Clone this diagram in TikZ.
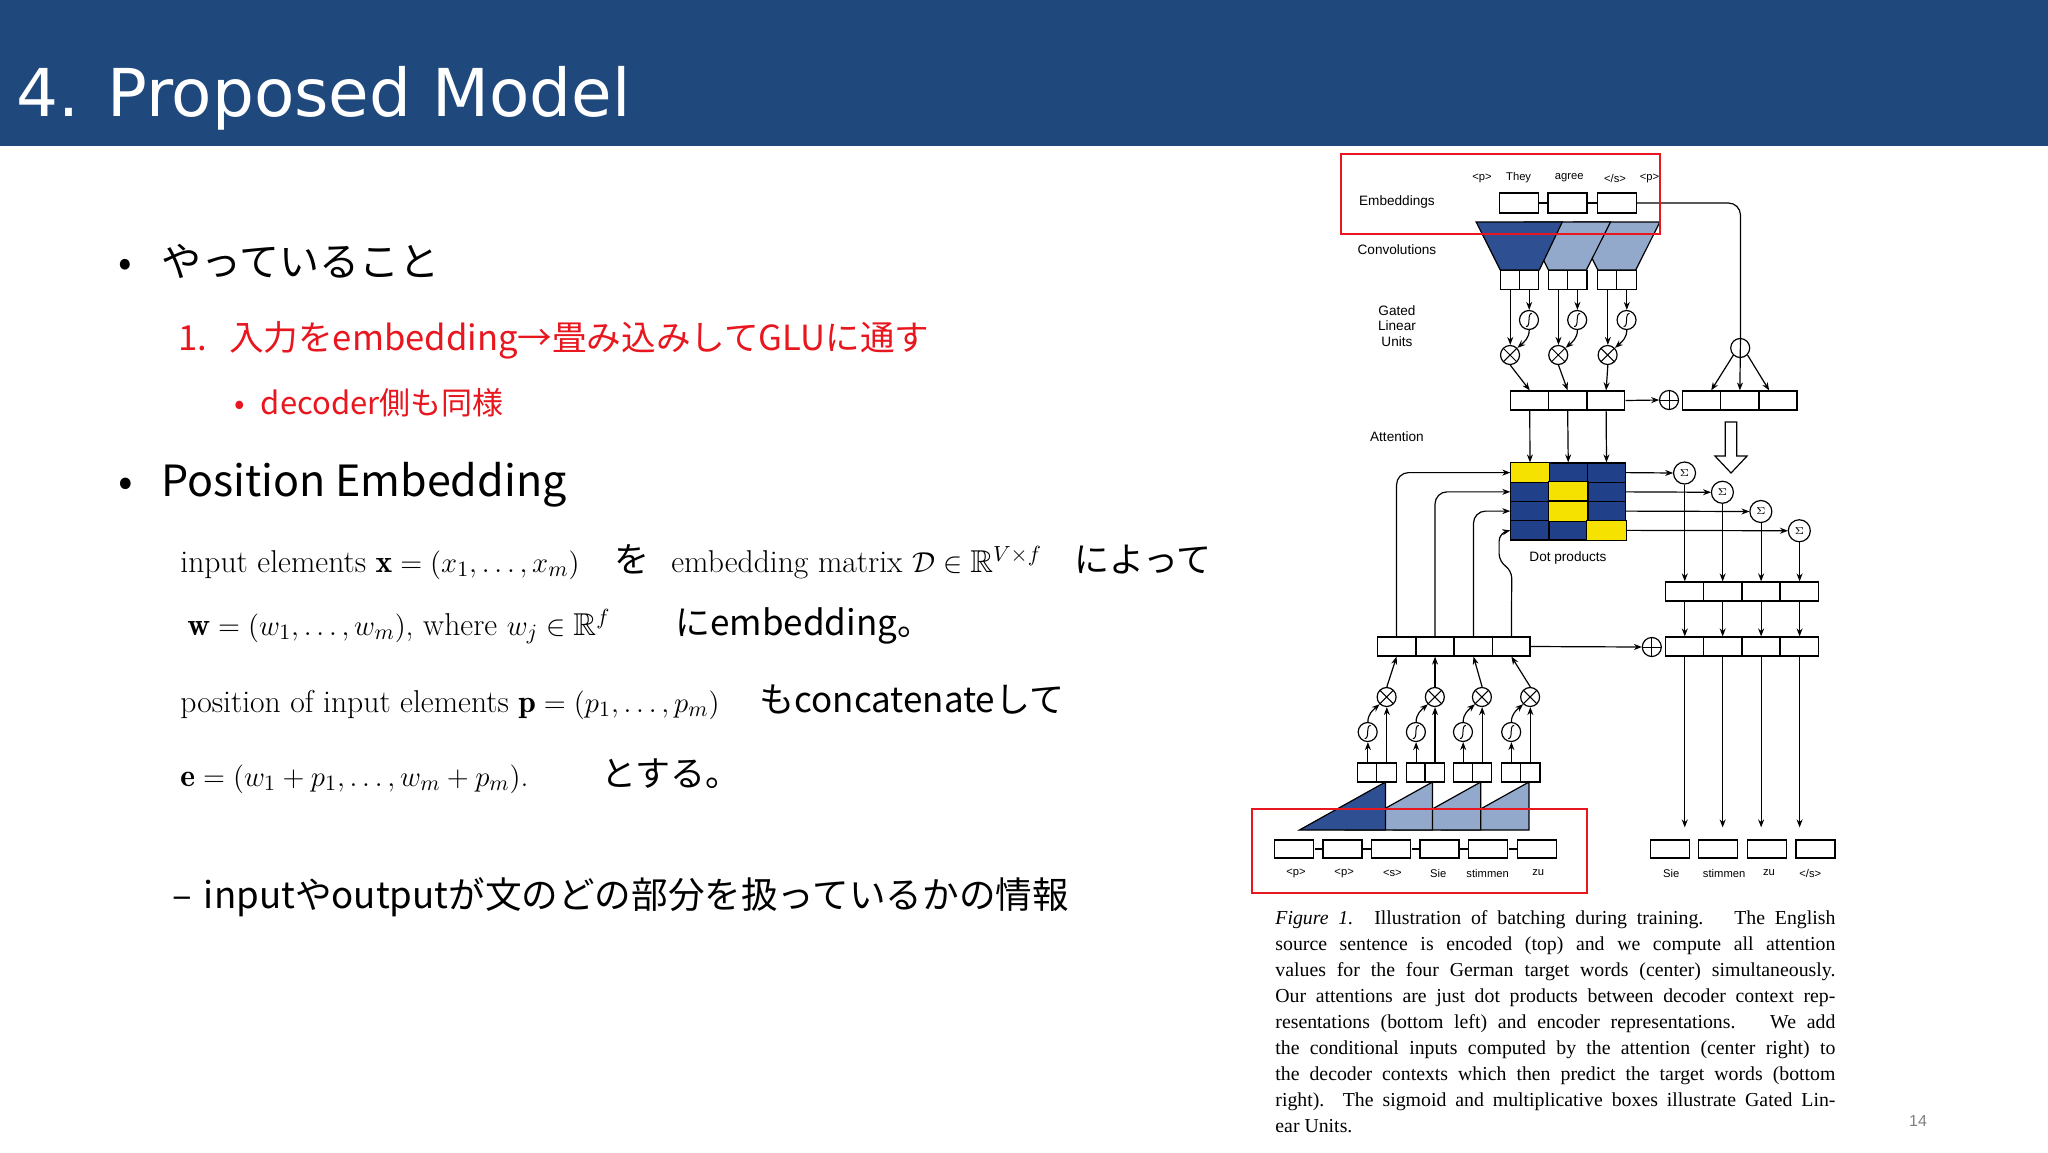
\documentclass[tikz,border=0pt]{standalone}
\usepackage{fontspec}
\usepackage{amssymb}
\usetikzlibrary{arrows.meta,calc}
\newfontfamily\jp{Noto Sans CJK JP}
\newfontfamily\dv{DejaVu Sans}
\newfontfamily\ar{Liberation Sans}
\newfontfamily\tm{Liberation Serif}
\definecolor{hdr}{HTML}{1F497D}
\definecolor{navy}{HTML}{21408A}
\definecolor{dkb}{HTML}{2E4F91}
\definecolor{ltb}{HTML}{93A9CC}
\definecolor{yel}{HTML}{F5E200}
\definecolor{rd}{HTML}{E8161E}
\tikzset{
 cell/.style={draw, line width=0.6pt, inner sep=0, minimum width=18.9pt, minimum height=9.5pt, fill=white},
 half/.style={cell, minimum width=9.8pt},
 arr/.style={-{Stealth[length=4pt,width=3pt]}, line width=0.6pt},
 ln/.style={line width=0.6pt},
 op/.style={draw, circle, inner sep=0, minimum size=9.5pt, line width=0.6pt},
 times/.style={op, fill=white, path picture={\draw[line width=0.5pt] (path picture bounding box.north west)--(path picture bounding box.south east) (path picture bounding box.north east)--(path picture bounding box.south west);}},
 oplus/.style={op, fill=white, path picture={\draw[line width=0.5pt] (path picture bounding box.north)--(path picture bounding box.south) (path picture bounding box.east)--(path picture bounding box.west);}},
 sigm/.style={op, fill=white, path picture={\draw[line width=0.5pt] ([shift={(-1.5pt,-3.3pt)}]path picture bounding box.center) .. controls ([shift={(1.2pt,-3.3pt)}]path picture bounding box.center) and ([shift={(-1.2pt,3.3pt)}]path picture bounding box.center) .. ([shift={(1.5pt,3.3pt)}]path picture bounding box.center);}},
 sumc/.style={op, fill=white, minimum size=11pt, font=\ar\fontsize{5.5}{5.5}\selectfont},
 lab/.style={font=\ar\fontsize{6.8}{7.8}\selectfont, align=center},
 tok/.style={font=\ar\fontsize{5.6}{6}\selectfont, inner sep=0},
 bjp/.style={anchor=base west, inner sep=0, font=\jp\fontsize{20}{22}\selectfont},
 mth/.style={anchor=base west, inner sep=0, font=\fontsize{15.8}{18}\selectfont},
 jpm/.style={anchor=base west, inner sep=0, font=\jp\fontsize{17.5}{19}\selectfont},
}
\begin{document}
\begin{tikzpicture}[x=0.5pt,y=-0.5pt]
\useasboundingbox (0,0) rectangle (2048,1152);
\fill[white] (0,0) rectangle (2048,1152);
\fill[hdr] (0,0) rectangle (2048,146);
\node[anchor=base west, inner sep=0, text=white, font=\dv\fontsize{33}{36}\selectfont] (title) at (16,116) {4. Proposed Model};
% bullets
\node[bjp] (b1d) at (118,276) {•};
\node[bjp] (b1) at (161,276) {やっていること};
\node[anchor=base west, inner sep=0, text=rd, font=\jp\fontsize{17.3}{19}\selectfont] (b2) at (178,350) {1.\hspace{11pt}入力をembedding→畳み込みしてGLUに通す};
\node[anchor=base west, inner sep=0, text=rd, font=\jp\fontsize{15.5}{17}\selectfont] (b3) at (234,414) {•\hspace{8pt}decoder側も同様};
\node[bjp, font=\jp\fontsize{21.5}{23}\selectfont] (b4d) at (118,496) {•};
\node[bjp, font=\jp\fontsize{21.5}{23}\selectfont] (b4) at (161,496) {Position Embedding};
\node[mth] (m1) at (180,572) {input elements $\mathbf{x} = (x_1, \ldots, x_m)$};
\node[jpm] (j1) at (614,572) {を};
\node[mth] (m1b) at (671,572) {embedding matrix $\mathcal{D} \in \mathbb{R}^{V\times f}$};
\node[jpm] (j1b) at (1074,572) {によって};
\node[mth] (m2) at (187,635) {$\mathbf{w} = (w_1, \ldots, w_m)$, where $w_j \in \mathbb{R}^f$};
\node[jpm] (j2) at (675,635) {にembedding。};
\node[mth] (m3) at (180,712) {position of input elements $\mathbf{p} = (p_1, \ldots, p_m)$};
\node[jpm] (j3) at (759,712) {もconcatenateして};
\node[mth] (m4) at (180,786) {$\mathbf{e} = (w_1 + p_1, \ldots, w_m + p_m)$.};
\node[jpm] (j4) at (601,786) {とする。};
\node[anchor=base west, inner sep=0, font=\jp\fontsize{18.3}{20}\selectfont] (b5) at (172,908) {–\hspace{6pt}inputやoutputが文のどの部分を扱っているかの情報};
% caption
\node[anchor=north west, inner sep=0, text width=280pt, align=justify, font=\tm\fontsize{9.9}{13}\selectfont] (cap) at (1275,910) {\emergencystretch=5pt\textit{Figure 1.} Illustration of batching during training. \ The English\linebreak source sentence is encoded (top) and we compute all attention\linebreak values for the four German target words (center) simultaneously.\linebreak Our attentions are just dot products between decoder context rep-\linebreak resentations (bottom left) and encoder representations. \ We add\linebreak the conditional inputs computed by the attention (center right) to\linebreak the decoder contexts which then predict the target words (bottom\linebreak right). The sigmoid and multiplicative boxes illustrate Gated Lin-\linebreak ear Units.};
\node[text=gray, font=\ar\fontsize{8}{9}\selectfont] (pg) at (1918,1121) {14};
\begin{scope}[shift={(-185,0)}, xscale=1.148]
% ===== encoder =====
\node[lab] (lemb) at (1378,202) {Embeddings};
\node[lab] (lconv) at (1378,250) {Convolutions};
\node[lab] (lglu) at (1378,326) {Gated\\Linear\\Units};
\node[lab] (latt) at (1378,437) {Attention};
\node[tok] at (1452,178) {<p>};
\node[tok] at (1484,178) {They};
\node[tok] at (1528,178) {agree};
\node[tok] at (1568,178) {</s>};
\node[tok] at (1598,178) {<p>};
\node[cell, minimum width=19.5pt, minimum height=10pt] (e1) at (1484,203) {};
\node[cell, minimum width=19.5pt, minimum height=10pt] (e2) at (1526.5,203) {};
\node[cell, minimum width=19.5pt, minimum height=10pt] (e3) at (1569.5,203) {};
\draw[ln] (e1.east) -- (e2.west) (e2.east) -- (e3.west);
\filldraw[fill=ltb, ln] (1532,222) -- (1607,222) -- (1586,270) -- (1553,270) -- cycle;
\filldraw[fill=ltb, ln] (1489,222) -- (1564,222) -- (1543,270) -- (1510,270) -- cycle;
\filldraw[fill=dkb, ln] (1447,222) -- (1522,222) -- (1502,270) -- (1468,270) -- cycle;
\foreach \i/\l in {1/1468,2/1510,3/1553}{
  \node[half] (cl\i) at (\l+8.5,280) {};
  \node[half] (cr\i) at (\l+25,280) {};
  \node[sigm] (s\i) at (\l+25,320) {};
  \node[times] (t\i) at (\l+8.5,355) {};
  \draw[arr] (cl\i.south) -- (t\i.north);
  \draw[arr] (cr\i.south) -- (s\i.north);
  \draw[arr] (s\i.south) to[out=-90,in=45] (t\i.north east);
}
\node[cell] (m1c) at (1493.5,400.5) {};
\node[cell] (m2c) at (1526.5,400.5) {};
\node[cell] (m3c) at (1560,400.5) {};
\foreach \i in {1,2,3}{\draw[arr] (t\i.south) -- (m\i c.north);}
\node[oplus] (o1) at (1615,400) {};
\draw[arr] (m3c.east) -- (o1.west);
\node[cell] (r1) at (1643.5,400.5) {};
\node[cell] (r2) at (1676.5,400.5) {};
\node[cell] (r3) at (1710,400.5) {};
\node[op] (pc) at (1677,348) {};
\draw[ln, rounded corners=6pt] (e3.east) -| (pc.north);
\draw[arr] (pc.north) -- (r2.north);
\draw[arr] (pc.south west) -- ([xshift=4pt]r1.north);
\draw[arr] (pc.south east) -- ([xshift=-4pt]r3.north);
\draw[ln, fill=white] (1664,422) -- (1674,422) -- (1674,456) -- (1683,456) -- (1669,473) -- (1655,456) -- (1664,456) -- cycle;
% attention matrix
\foreach \r in {1,2,3,4}{
  \foreach \c in {1,2,3}{
    \pgfmathsetmacro\cx{1477+33.33*(\c-1)+16.67}
    \pgfmathsetmacro\cy{463+19.25*(\r-1)+9.6}
    \node[draw, line width=0.6pt, inner sep=0, minimum width=19.1pt, minimum height=9.6pt, fill=navy] (a\r\c) at (\cx,\cy) {};
  }
}
\foreach \n in {a11,a22,a32,a43}{\fill[yel, draw=black, line width=0.6pt] (\n.south west) rectangle (\n.north east);}
\foreach \i in {1,2,3}{\draw[arr] (m\i c.south) -- (a1\i.north);}
\node[lab] (ldot) at (1527,558) {Dot products};
\node[cell, minimum width=19.5pt, minimum height=9pt] (w1) at (1616,849) {};
\node[cell, minimum width=19.5pt, minimum height=9pt] (w2) at (1657.5,849) {};
\node[cell, minimum width=19.5pt, minimum height=9pt] (w3) at (1700,849) {};
\node[cell, minimum width=19.5pt, minimum height=9pt] (w4) at (1742.5,849) {};
\foreach \r/\x in {1/1628.5,2/1661.5,3/1695,4/1728.5}{
  \node[sumc] (g\r) at (\x,473+19.25*\r-19.25) {$\Sigma$};
  \draw[arr] (a\r3.east) -- (g\r.west);
  \node[cell] (u\r) at (\x,591.5) {};
  \node[cell] (v\r) at (\x,646.5) {};
  \draw[arr] (g\r.south) -- (u\r.north);
  \draw[arr] (u\r.south) -- (v\r.north);
  \draw[arr] (v\r.south) -- ([yshift=6pt]v\r.south |- w\r.north);
}
\node[tok] at (1617,873) {Sie};
\node[tok] at (1663,873) {stimmen};
\node[tok] at (1702,873) {zu};
\node[tok] at (1738,873) {</s>};
% ===== decoder =====
\node[cell] (d1) at (1377.5,646.5) {};
\node[cell] (d2) at (1411,646.5) {};
\node[cell] (d3) at (1444.5,646.5) {};
\node[cell] (d4) at (1477.5,646.5) {};
\node[oplus] (o2) at (1600,647) {};
\draw[arr] (d4.east) -- (o2.west);
\draw[arr, rounded corners=6pt] (d1.north) |- (a11.west);
\draw[arr, rounded corners=6pt] (d2.north) |- (a21.west);
\draw[arr, rounded corners=6pt] (d3.north) |- (a31.west);
\draw[arr, rounded corners=4pt] (d4.north) -- (1478,570) -- (1467,562) -- (1467,533) -- (a41.west);
\filldraw[fill=ltb, ln] (1418,830) -- (1493,830) -- (1493,782) -- cycle;
\filldraw[fill=ltb, ln] (1376,830) -- (1451,830) -- (1451,782) -- cycle;
\filldraw[fill=ltb, ln] (1334,830) -- (1409,830) -- (1409,782) -- cycle;
\filldraw[fill=dkb, ln] (1293,830) -- (1368,830) -- (1368,782) -- cycle;
\foreach \i/\l in {1/1344,2/1386,3/1427,4/1469}{
  \node[half] (xl\i) at (\l+8.5,772.5) {};
  \node[half] (xr\i) at (\l+25,772.5) {};
  \node[sigm] (z\i) at (\l+8.5,732) {};
  \node[times] (q\i) at (\l+25,697) {};
  \draw[arr] (xr\i.north) -- (q\i.south);
  \draw[arr] (xl\i.north) -- (z\i.south);
  \draw[arr] (z\i.north) to[out=90,in=-135] (q\i.south west);
  \draw[arr] (q\i.north) -- (d\i.south);
}
\foreach \i/\x in {1/1288.5,2/1330.5,3/1373,4/1415,5/1457.5,6/1500}{
  \node[cell, minimum width=19.5pt, minimum height=9pt] (bx\i) at (\x,849) {};
}
\foreach \i/\j in {1/2,2/3,3/4,4/5,5/6}{\draw[ln] (bx\i.east) -- (bx\j.west);}
\node[tok] at (1290,873) {<p>};
\node[tok] at (1332,873) {<p>};
\node[tok] at (1374,873) {<s>};
\node[tok] at (1414,873) {Sie};
\node[tok] at (1457,873) {stimmen};
\node[tok] at (1501,873) {zu};
\end{scope}
\draw[rd, line width=1pt] (1341,154) rectangle (1660,234);
\draw[rd, line width=1pt] (1252,809) rectangle (1587,893);
\end{tikzpicture}
\end{document}
